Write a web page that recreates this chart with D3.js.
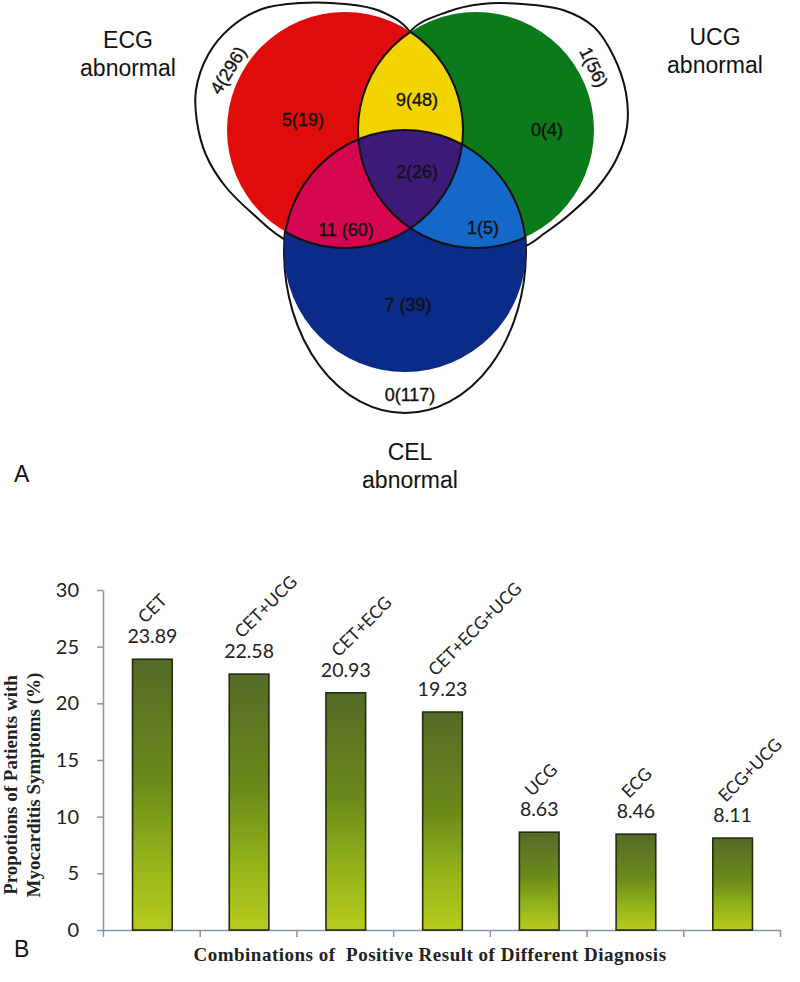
<!DOCTYPE html>
<html>
<head>
<meta charset="utf-8">
<script src="https://cdn.jsdelivr.net/npm/d3@7"></script>
<style>
  html, body { margin: 0; padding: 0; background: #ffffff; }
  svg { display: block; }
</style>
</head>
<body>
<svg id="chart" width="800" height="982"></svg>
<script>
// ---------------- DATA ----------------
// Panel A: Venn diagram
const setNames = ["ECG", "UCG", "CEL"];
const setSubtitle = "abnormal";
const regionNames = ["ECG only outside", "ECG", "ECG+UCG", "UCG", "UCG only outside",
                     "ECG+UCG+CEL", "ECG+CEL", "UCG+CEL", "CEL", "CEL only outside"];
const regionLabels = ["4(296)", "5(19)", "9(48)", "0(4)", "1(56)",
                      "2(26)", "11 (60)", "1(5)", "7 (39)", "0(117)"];
// Panel B: bar chart
const categories = ["CET", "CET+UCG", "CET+ECG", "CET+ECG+UCG", "UCG", "ECG", "ECG+UCG"];
const values = [23.89, 22.58, 20.93, 19.23, 8.63, 8.46, 8.11];
const yTicks = [0, 5, 10, 15, 20, 25, 30];

// ---------------- LAYOUT ----------------
const svg = d3.select("#chart");
const defs = svg.append("defs");

const circles = {
  ECG: {cx: 345, cy: 130, r: 118, color: "#e00b0b"},
  UCG: {cx: 476, cy: 130, r: 118, color: "#0b7a1b"},
  CEL: {cx: 405, cy: 251, r: 121, color: "#0a2c88"}
};
// outline shapes (closed smooth curves around each circle)
const outlineShapes = {
  ECG: [[410,32],[380,11],[345,4],[300,3],[262,9],[230,28],[208,55],[196,90],[197,122],
        [206,155],[225,186],[253,214],[288,241],[340,250],[400,200],[430,100]],
  UCG: [[410,32],[447,12],[482,4],[522,4],[563,10],[594,27],[614,57],[626,93],[627,127],
        [617,158],[597,188],[570,214],[545,233],[523,247],[470,250],[420,200],[390,100]]
};
const celOutline = {cx: 405, cy: 251, rx: 121, ry: 162};

const mixColors = {
  "ECG+UCG": "#f2d400",
  "ECG+CEL": "#d5064f",
  "UCG+CEL": "#1567c9",
  "ECG+UCG+CEL": "#3c1b78"
};
const labelPos = [
  {x: 228, y: 70, rot: -58}, {x: 303, y: 120}, {x: 417, y: 100}, {x: 547, y: 130},
  {x: 594, y: 67, rot: 64}, {x: 417, y: 172}, {x: 346, y: 230}, {x: 483, y: 228},
  {x: 408, y: 305}, {x: 410, y: 395}
];

// clip paths for each circle
setNames.forEach(k => {
  const c = circles[k];
  defs.append("clipPath").attr("id", "clip-" + k)
    .append("circle").attr("cx", c.cx).attr("cy", c.cy).attr("r", c.r);
  const cp = defs.append("clipPath").attr("id", "clipOthers-" + k);
  setNames.filter(o => o !== k).forEach(o => {
    const oc = circles[o];
    cp.append("circle").attr("cx", oc.cx).attr("cy", oc.cy).attr("r", oc.r);
  });
});

const venn = svg.append("g");
const outlineLine = d3.line().curve(d3.curveCatmullRomClosed.alpha(0.5));

["ECG", "UCG"].forEach(k => {
  venn.append("path").attr("d", outlineLine(outlineShapes[k]))
    .attr("fill", "none").attr("stroke", "#111").attr("stroke-width", 2);
});
venn.append("ellipse")
  .attr("cx", celOutline.cx).attr("cy", celOutline.cy)
  .attr("rx", celOutline.rx).attr("ry", celOutline.ry)
  .attr("fill", "none").attr("stroke", "#111").attr("stroke-width", 2);

function circ(g, k, fill) {
  const c = circles[k];
  return g.append("circle").attr("cx", c.cx).attr("cy", c.cy).attr("r", c.r).attr("fill", fill);
}
circ(venn, "ECG", circles.ECG.color);
circ(venn, "UCG", circles.UCG.color);
circ(venn.append("g").attr("clip-path", "url(#clip-ECG)"), "UCG", mixColors["ECG+UCG"]);
circ(venn, "CEL", circles.CEL.color);
circ(venn.append("g").attr("clip-path", "url(#clip-ECG)"), "CEL", mixColors["ECG+CEL"]);
circ(venn.append("g").attr("clip-path", "url(#clip-UCG)"), "CEL", mixColors["UCG+CEL"]);
circ(venn.append("g").attr("clip-path", "url(#clip-ECG)").append("g").attr("clip-path", "url(#clip-UCG)"),
     "CEL", mixColors["ECG+UCG+CEL"]);

// internal boundary strokes
setNames.forEach(k => {
  const c = circles[k];
  venn.append("g").attr("clip-path", `url(#clipOthers-${k})`)
    .append("circle").attr("cx", c.cx).attr("cy", c.cy).attr("r", c.r)
    .attr("fill", "none").attr("stroke", "#111").attr("stroke-width", 2);
});

// region labels
venn.selectAll("text.region").data(regionLabels).join("text")
  .attr("class", "region")
  .attr("transform", (d, i) => `translate(${labelPos[i].x},${labelPos[i].y}) rotate(${labelPos[i].rot || 0})`)
  .attr("text-anchor", "middle").attr("dy", "0.36em")
  .attr("font-family", "Liberation Sans, Arial, sans-serif").attr("font-size", 18)
  .attr("fill", "#111").attr("stroke", "#111").attr("stroke-width", 0.35)
  .text(d => d);

// set titles
const titlePos = {ECG: {x: 128, y: 48}, UCG: {x: 715, y: 45}, CEL: {x: 410, y: 460}};
setNames.forEach(k => {
  const t = venn.append("text").attr("x", titlePos[k].x).attr("y", titlePos[k].y)
    .attr("text-anchor", "middle")
    .attr("font-family", "Liberation Sans, Arial, sans-serif").attr("font-size", 23)
    .attr("fill", "#111");
  t.append("tspan").attr("x", titlePos[k].x).text(k);
  t.append("tspan").attr("x", titlePos[k].x).attr("dy", 28).text(setSubtitle);
});

svg.append("text").attr("x", 14).attr("y", 482)
  .attr("font-family", "Liberation Sans, Arial, sans-serif").attr("font-size", 23)
  .attr("fill", "#111").text("A");
svg.append("text").attr("x", 14).attr("y", 957)
  .attr("font-family", "Liberation Sans, Arial, sans-serif").attr("font-size", 23)
  .attr("fill", "#111").text("B");

// ---------------- BAR CHART ----------------
const x0 = 103, x1 = 780, yBase = 930, yTop = 590;
const x = d3.scaleBand().domain(categories).range([x0, x1]).padding(0);
const xEdge = d3.scaleLinear().domain([0, categories.length]).range([x0, x1]);
const y = d3.scaleLinear().domain([0, 30]).range([yBase, yTop]);
const barW = x.bandwidth() * 0.41;

const grad = defs.append("linearGradient").attr("id", "barGrad")
  .attr("x1", 0).attr("y1", 0).attr("x2", 0).attr("y2", 1);
grad.append("stop").attr("offset", "0%").attr("stop-color", "#566a28");
grad.append("stop").attr("offset", "45%").attr("stop-color", "#6a8a1a");
grad.append("stop").attr("offset", "75%").attr("stop-color", "#95b41a");
grad.append("stop").attr("offset", "100%").attr("stop-color", "#b6cb1c");

const axisColor = "#8396ad";
const yAxis = svg.append("g").attr("transform", `translate(${x0},0)`)
  .call(d3.axisLeft(y).tickValues(yTicks).tickSize(6).tickPadding(18).tickSizeOuter(0));
yAxis.select(".domain").attr("stroke", axisColor).attr("stroke-width", 1.5);
yAxis.selectAll(".tick line").attr("stroke", axisColor).attr("stroke-width", 1.5);
yAxis.selectAll(".tick text").attr("font-family", "Lato, sans-serif").attr("font-size", 20)
  .attr("fill", "#222");

const xAxis = svg.append("g").attr("transform", `translate(0,${yBase})`)
  .call(d3.axisBottom(xEdge).tickValues(d3.range(categories.length + 1)).tickFormat("").tickSize(7).tickSizeOuter(0));
xAxis.select(".domain").attr("stroke", axisColor).attr("stroke-width", 1.5);
xAxis.selectAll(".tick line").attr("stroke", axisColor).attr("stroke-width", 1.5);

svg.selectAll("rect.bar").data(values).join("rect")
  .attr("class", "bar")
  .attr("x", (d, i) => x(categories[i]) + x.bandwidth() / 2 - barW / 2 + 1)
  .attr("y", d => y(d))
  .attr("width", barW)
  .attr("height", d => yBase - y(d))
  .attr("fill", "url(#barGrad)")
  .attr("stroke", "#252c10").attr("stroke-width", 1.6);

svg.selectAll("text.val").data(values).join("text")
  .attr("class", "val")
  .attr("x", (d, i) => x(categories[i]) + x.bandwidth() / 2 + 1)
  .attr("y", d => y(d) - 16)
  .attr("text-anchor", "middle")
  .attr("font-family", "Lato, sans-serif").attr("font-size", 19.5).attr("fill", "#222")
  .text(d => d.toFixed(2));

svg.selectAll("text.cat").data(categories).join("text")
  .attr("class", "cat")
  .attr("transform", (d, i) => `translate(${x(d) + x.bandwidth() / 2 - 6},${y(values[i]) - 35}) rotate(-45)`)
  .attr("font-family", "Lato, sans-serif").attr("font-size", 17.5).attr("fill", "#222")
  .text(d => d);

// axis titles
const yt = svg.append("text").attr("transform", `translate(0,785) rotate(-90)`)
  .attr("text-anchor", "middle")
  .attr("font-family", "Liberation Serif, Times New Roman, serif").attr("font-weight", "bold")
  .attr("font-size", 19).attr("fill", "#222");
yt.append("tspan").attr("x", 0).attr("y", 17).text("Propotions of Patients with");
yt.append("tspan").attr("x", 0).attr("y", 40).text("Myocarditis Symptoms (%)");

svg.append("text").attr("x", 430).attr("y", 961)
  .attr("text-anchor", "middle")
  .attr("font-family", "Liberation Serif, Times New Roman, serif").attr("font-weight", "bold")
  .attr("font-size", 19).attr("letter-spacing", 0.5).attr("fill", "#222")
  .style("white-space", "pre")
  .text("Combinations of  Positive Result of Different Diagnosis");
</script>
</body>
</html>
